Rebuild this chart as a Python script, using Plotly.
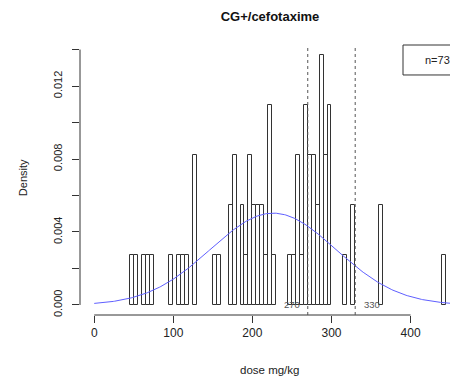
import numpy as np
import plotly.graph_objects as go

# Histogram bins (left edges, width 5 mg/kg) and counts
bin_left = [45, 50, 60, 65, 70, 95, 105, 110, 115, 125, 150, 155,
            170, 175, 185, 190, 195, 200, 205, 210, 215, 220, 225,
            245, 250, 255, 260, 265, 270, 275, 280, 285, 290, 295,
            315, 325, 360, 440]
counts = [1, 1, 1, 1, 1, 1, 1, 1, 1, 3, 1, 1,
          2, 3, 2, 1, 3, 2, 2, 2, 1, 4, 1,
          1, 1, 3, 1, 4, 3, 3, 2, 5, 3, 4,
          1, 2, 2, 1]
bin_width = 5
n_total = 73
ref_lines = [270, 330]
x_ticks = [0, 100, 200, 300, 400]
y_ticks = [0, 0.002, 0.004, 0.006, 0.008, 0.010, 0.012, 0.014]
y_ticklabels = ["0.000", "", "0.004", "", "0.008", "", "0.012", ""]

centers = [b + bin_width / 2 for b in bin_left]
density = [c / (n_total * bin_width) for c in counts]

# normal fit from the (binned) data
vals = np.repeat(centers, counts)
mu = vals.mean()
sd = vals.std(ddof=1)
xs = np.linspace(0, 450, 300)
ys = np.exp(-0.5 * ((xs - mu) / sd) ** 2) / (sd * np.sqrt(2 * np.pi))

XR = [-18, 460]
YR = [-0.00055, 0.01425]

# page body has an 8px margin, so the figure is drawn 8px smaller / shifted
OFF = 8
W, H = 458 - OFF, 381 - OFF

fig = go.Figure()
fig.add_trace(go.Bar(x=centers, y=density, width=bin_width,
                     marker=dict(color="white", line=dict(color="#333333", width=1)),
                     showlegend=False))
fig.add_trace(go.Scatter(x=xs, y=ys, mode="lines",
                         line=dict(color="rgb(95,95,255)", width=1),
                         showlegend=False))

font = "Liberation Sans, Arial, sans-serif"

def px(xv):
    return (xv - XR[0]) / (XR[1] - XR[0])

def py(yv):
    return (yv - YR[0]) / (YR[1] - YR[0])

shapes = []
shapes.append(dict(type="line", xref="paper", yref="paper",
                   x0=px(x_ticks[0]), x1=px(x_ticks[-1]), y0=0, y1=0,
                   line=dict(color="#333333", width=1)))
shapes.append(dict(type="line", xref="paper", yref="paper",
                   x0=0, x1=0, y0=py(y_ticks[0]), y1=py(y_ticks[-1]),
                   line=dict(color="#333333", width=1)))
for v in ref_lines:
    shapes.append(dict(type="line", xref="x", yref="paper", x0=v, x1=v, y0=0, y1=1,
                       line=dict(color="#555555", width=1, dash="dot")))
shapes.append(dict(type="rect", xref="paper", yref="paper",
                   x0=0.8545, x1=1.1, y0=0.889, y1=1.0,
                   line=dict(color="#333333", width=1), fillcolor="rgba(0,0,0,0)"))

annotations = [
    dict(text="n=73", xref="paper", yref="paper", x=0.984, y=0.944,
         xanchor="right", yanchor="middle",
         showarrow=False, font=dict(family=font, size=11, color="#222")),
    dict(text=str(ref_lines[0]), xref="x", yref="y", x=ref_lines[0], y=0,
         xanchor="right", yanchor="middle", xshift=-6, showarrow=False,
         font=dict(family=font, size=9.5, color="#555")),
    dict(text=str(ref_lines[1]), xref="x", yref="y", x=ref_lines[1], y=0,
         xanchor="left", yanchor="middle", xshift=7, showarrow=False,
         font=dict(family=font, size=9.5, color="#555")),
    dict(text="Density", xref="paper", yref="paper", x=-0.151, y=py(0.007),
         textangle=-90, showarrow=False, xanchor="center", yanchor="middle",
         font=dict(family=font, size=11, color="#222")),
    dict(text="dose mg/kg", xref="paper", yref="paper", x=0.5026, y=-0.2037,
         showarrow=False, xanchor="center", yanchor="middle",
         font=dict(family=font, size=11.5, color="#222")),
]

fig.update_layout(
    width=W, height=H,
    margin=dict(l=80 - OFF, r=0, t=45 - OFF, b=381 - 315, pad=0),
    paper_bgcolor="white", plot_bgcolor="white",
    title=dict(text="<b>CG+/cefotaxime</b>", x=(270 - OFF) / W, xanchor="center",
               y=1 - (16 - OFF) / H, yanchor="middle",
               font=dict(family=font, size=13, color="#111")),
    bargap=0,
    shapes=shapes, annotations=annotations,
    xaxis=dict(range=XR, tickvals=x_ticks, ticks="outside", ticklen=7,
               tickcolor="#333333", showline=False, showgrid=False, zeroline=False,
               tickfont=dict(family=font, size=12, color="#222")),
    yaxis=dict(range=YR, tickvals=y_ticks, ticktext=y_ticklabels, ticks="outside",
               ticklen=7, tickcolor="#333333", showline=False, showgrid=False,
               zeroline=False, tickangle=-90, ticklabelstandoff=6,
               tickfont=dict(family=font, size=11, color="#222")),
)

fig.write_html("out.html")
